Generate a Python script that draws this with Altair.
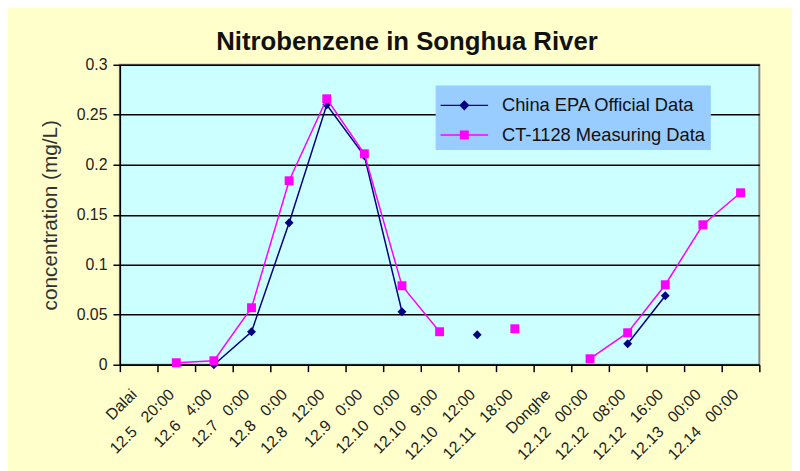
import altair as alt
import pandas as pd

NB = "\u00a0\u00a0\u00a0"
categories = ["Dalai", "12.5 20:00", "12.6 4:00", "12.7 0:00", "12.8 0:00", "12.8 12:00",
              "12.9 0:00", "12.10 0:00", "12.10 9:00", "12.10 12:00", "12.11 18:00",
              "Donghe", "12.12 00:00", "12.12 08:00", "12.12 16:00", "12.13 00:00", "12.14 00:00"]
categories = [c.replace(" ", NB) for c in categories]

series_names = ["China EPA Official Data", "CT-1128 Measuring Data"]
epa_values = [None, None, 0.0, 0.033, 0.142, 0.260, 0.209, 0.053, None, 0.030, None,
              None, None, 0.021, 0.069, None, None]
ct_values = [None, 0.002, 0.004, 0.057, 0.184, 0.266, 0.211, 0.079, 0.033, None, 0.036,
             None, 0.006, 0.032, 0.080, 0.140, 0.172]

rows = []
for name, vals in zip(series_names, [epa_values, ct_values]):
    seg = 0
    prev = None
    for c, v in zip(categories, vals):
        if v is None:
            prev = None
            continue
        if prev is None:
            seg += 1
        rows.append({"cat": c, "value": v, "series": name, "seg": f"{name}-{seg}"})
        prev = v
df = pd.DataFrame(rows)

FONT = "Liberation Sans"
navy = "#000080"
pink = "#FF00FF"

# legend glyphs: a line with a marker in its middle (filled shapes, unit = 15px)
diamond_leg = ("M-1.6,-0.05H-0.3V0.05H-1.6Z M0.3,-0.05H1.6V0.05H0.3Z "
               "M0,-0.34L0.34,0L0,0.34L-0.34,0Z")
square_leg = ("M-1.6,-0.05H-0.3V0.05H-1.6Z M0.3,-0.05H1.6V0.05H0.3Z "
              "M-0.3,-0.3H0.3V0.3H-0.3Z")

legend = alt.Legend(
    title=None, orient="none", legendX=319, legendY=21,
    fillColor="#99CCFF", padding=5, labelFont=FONT, labelFontSize=18.5,
    labelColor="#111", symbolSize=900, symbolStrokeWidth=0, symbolOpacity=1,
    symbolFillColor=navy, symbolOffset=9,
    rowPadding=5, labelOffset=23, labelLimit=400,
)

color_scale = alt.Scale(domain=series_names, range=[navy, pink])

x = alt.X("cat:N", sort=categories,
          scale=alt.Scale(type="band", domain=categories, paddingInner=0, paddingOuter=0),
          bandPosition=0.5,
          axis=alt.Axis(title=None, tickBand="extent", labelOffset=-5,
                        labelAngle=-45, labelAlign="right", labelBaseline="middle",
                        labelFont=FONT, labelFontSize=16, labelColor="#222",
                        labelPadding=20, labelOverlap=False, labelBound=False, labelFlush=False,
                        tickSize=7, tickColor="black", tickWidth=1.5,
                        domainColor="black", domainWidth=1.5, grid=False))
y = alt.Y("value:Q", scale=alt.Scale(domain=[0, 0.3], nice=False, zero=True),
          axis=alt.Axis(title="concentration (mg/L)", values=[0, 0.05, 0.1, 0.15, 0.2, 0.25, 0.3],
                        format=".2~f", labelFont=FONT, labelFontSize=16, labelColor="#222",
                        labelPadding=6, tickSize=7, tickColor="black", tickWidth=1.5,
                        domainColor="black", domainWidth=1.5,
                        grid=True, gridColor="black", gridWidth=1.5,
                        titleFont=FONT, titleFontSize=21, titleFontWeight="normal",
                        titleColor="#333", titlePadding=16))

base = alt.Chart(df)
epa = base.transform_filter(alt.datum.series == series_names[0])
ct = base.transform_filter(alt.datum.series == series_names[1])

line_epa = epa.mark_line(strokeWidth=1.5, color=navy).encode(x=x, y=y, detail="seg:N")
pts_epa = epa.mark_point(filled=True, opacity=1, shape="diamond", size=80, color=navy).encode(x=x, y=y)
line_ct = ct.mark_line(strokeWidth=1.5, color=pink).encode(x=x, y=y, detail="seg:N")
pts_ct = ct.mark_point(filled=True, opacity=1, shape="square", size=81, color=pink).encode(x=x, y=y)

legend_layer = base.transform_filter("false").mark_point(filled=True, strokeWidth=0).encode(
    x=x, y=y,
    color=alt.Color("series:N", scale=color_scale, legend=legend),
    shape=alt.Shape("series:N", scale=alt.Scale(domain=series_names, range=[diamond_leg, square_leg]),
                    legend=legend),
)

chart = alt.layer(line_epa, pts_epa, line_ct, pts_ct, legend_layer).properties(
    width=646, height=303,
    autosize="none",
    padding={"left": 113, "top": 55, "right": 33, "bottom": 105},
    background="#FFFFCC",
    title=alt.TitleParams("Nitrobenzene in Songhua River", font=FONT, fontSize=26,
                          fontWeight="bold", color="#111", dx=-33, offset=2),
).configure_view(fill="#CCFFFF", stroke="#888888", strokeWidth=2)

chart.save("out.html", embed_options={"renderer": "svg", "actions": False})
